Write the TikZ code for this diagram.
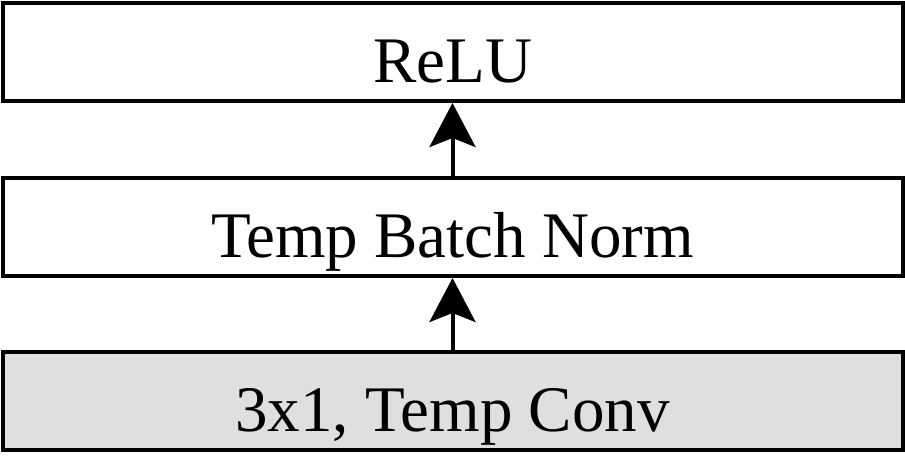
\documentclass[tikz,border=0pt]{standalone}
\usepackage{fontspec}
\setmainfont{Liberation Serif}
\usetikzlibrary{arrows.meta}
\begin{document}
\begin{tikzpicture}[x=1pt,y=-1pt,
  layer/.style={draw=black, line width=4pt, minimum width=900pt, minimum height=98pt, inner sep=0pt, text height=60pt, text depth=0pt, font=\fontsize{65}{78}\selectfont},
  flow/.style={line width=4pt, -{Stealth[length=44pt, width=46pt, inset=9pt]}}]
\useasboundingbox (0,0) rectangle (905,460);
\node[layer] (relu) at (452.5,52) {ReLU};
\node[layer] (bn) at (452.5,227) {Temp Batch Norm};
\node[layer, fill={rgb,255:red,223;green,223;blue,223}] (conv) at (452.5,401) {3x1, Temp Conv};
\draw[flow] (conv.north) -- (bn.south);
\draw[flow] (bn.north) -- (relu.south);
\end{tikzpicture}
\end{document}
